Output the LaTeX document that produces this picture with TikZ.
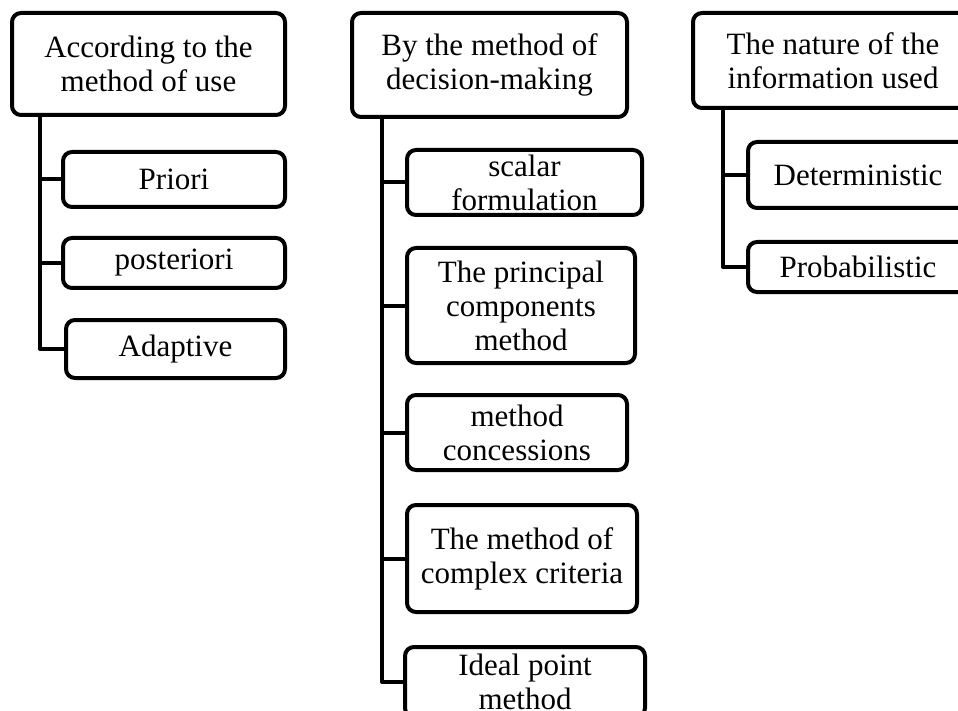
\documentclass[tikz,border=0pt]{standalone}
\usepackage{fontspec}
\setmainfont{Liberation Serif}
\begin{document}
\begin{tikzpicture}[x=1pt,y=-1pt,
  box/.style={draw, line width=4pt, rounded corners=9pt, align=center, inner sep=0pt,
    font=\fontsize{31}{34}\selectfont},
  conn/.style={line width=4pt, line cap=round, line join=round}]
\useasboundingbox (0,0) rectangle (958,711);
\clip (0,0) rectangle (958,711);
% left column
\node[box, minimum width=273, minimum height=102] (L0) at (148.5,64) {According to the\\method of use};
\node[box, minimum width=222, minimum height=55] (L1) at (174,179.5) {Priori};
\node[box, minimum width=222, minimum height=50] (L2) at (174,263) {posteriori};
\node[box, minimum width=219, minimum height=58] (L3) at (175.5,349) {Adaptive};
\coordinate (Lt) at (40,115);
\draw[conn] (Lt) |- (L3.west);
\draw[conn] (Lt |- L1.west) -- (L1.west);
\draw[conn] (Lt |- L2.west) -- (L2.west);
% middle column
\node[box, minimum width=275, minimum height=104] (M0) at (489.5,65) {By the method of\\decision-making};
\node[box, minimum width=235, minimum height=65] (M1) at (524.5,182.5) {scalar\\formulation};
\node[box, minimum width=228, minimum height=115] (M2) at (521,305.5) {The principal\\components\\method};
\node[box, minimum width=220, minimum height=75] (M3) at (517,432.5) {method\\concessions};
\node[box, minimum width=230, minimum height=107] (M4) at (522,558.5) {The method of\\complex criteria};
\node[box, minimum width=240, minimum height=70] (M5) at (525,682) {Ideal point\\method};
\coordinate (Mt) at (382,117);
\draw[conn] (Mt) |- (M5.west);
\draw[conn] (Mt |- M1.west) -- (M1.west);
\draw[conn] (Mt |- M2.west) -- (M2.west);
\draw[conn] (Mt |- M3.west) -- (M3.west);
\draw[conn] (Mt |- M4.west) -- (M4.west);
% right column
\node[box, minimum width=280, minimum height=95] (R0) at (833,60.5) {The nature of the\\information used};
\node[box, minimum width=220, minimum height=66] (R1) at (858,175) {Deterministic};
\node[box, minimum width=220, minimum height=50] (R2) at (858,267) {Probabilistic};
\coordinate (Rt) at (723,108);
\draw[conn] (Rt) |- (R2.west);
\draw[conn] (Rt |- R1.west) -- (R1.west);
\end{tikzpicture}
\end{document}
